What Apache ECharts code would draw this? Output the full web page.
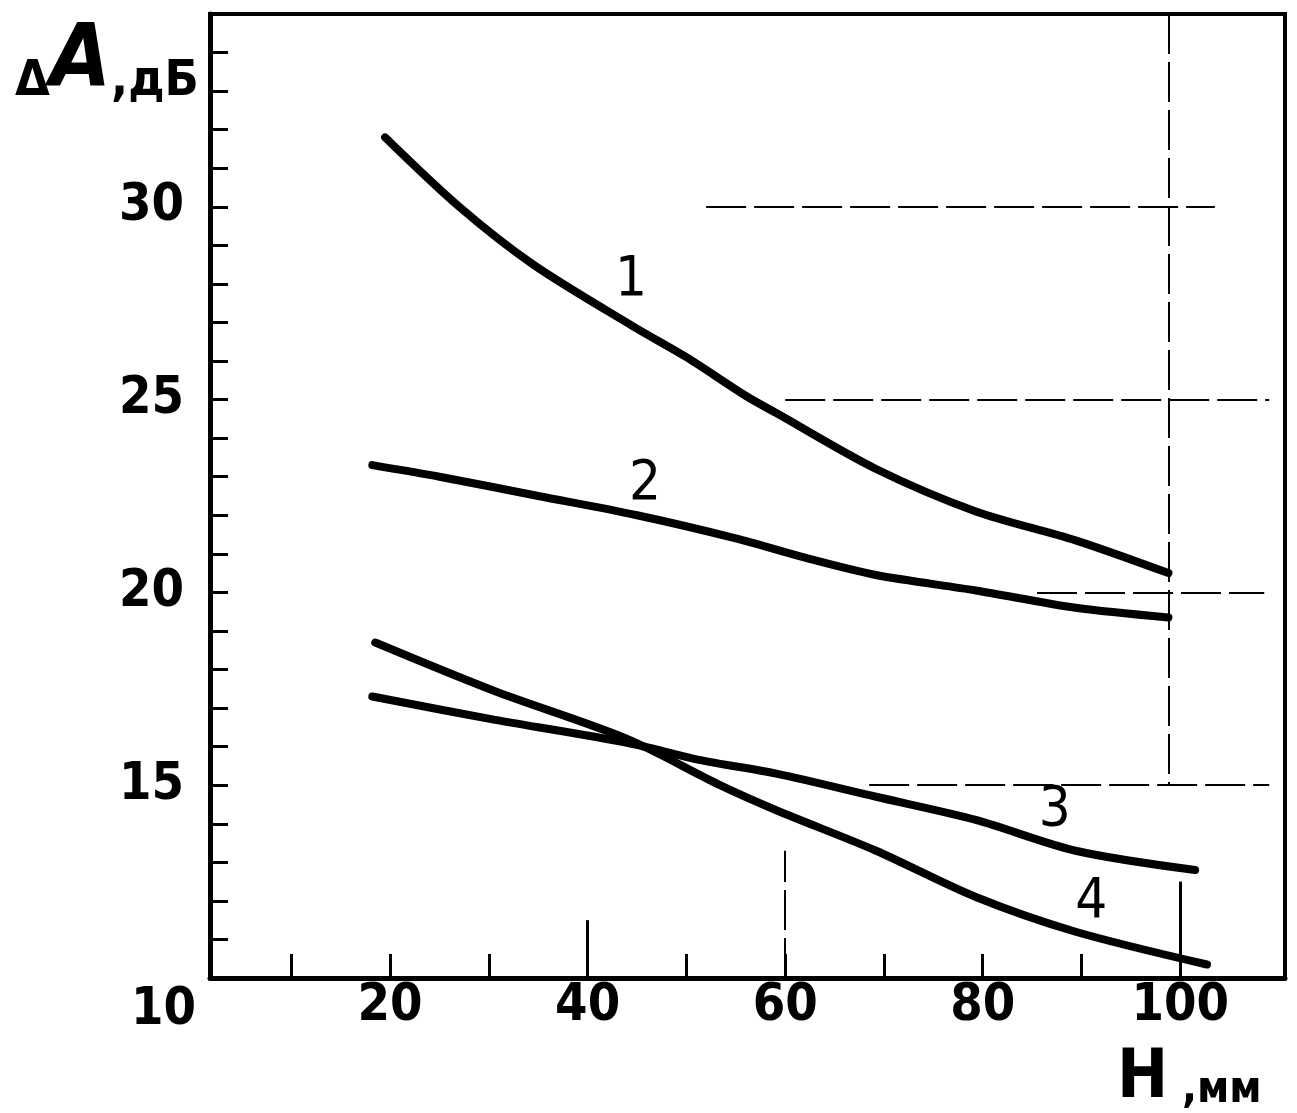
<!DOCTYPE html>
<html>
<head>
<meta charset="utf-8">
<title>ΔA(H)</title>
<script src="https://cdn.jsdelivr.net/npm/echarts@6/dist/echarts.min.js"></script>
<style>
  html, body { margin: 0; padding: 0; background: #fff; }
  #main { width: 1297px; height: 1113px; }
</style>
</head>
<body>
<div id="main"></div>
<script>
// кривые: [H, мм ; ΔA, дБ]
var curve1 = [[19.5, 31.8], [27, 30.0], [34.5, 28.5], [44.6, 26.9], [50, 26.1], [56, 25.1], [59.1, 24.65], [69.2, 23.2], [79.3, 22.1], [89.4, 21.35], [98.8, 20.5]];
var curve2 = [[18.2, 23.3], [25, 23.0], [35, 22.5], [45, 22.0], [55, 21.4], [62, 20.9], [69.2, 20.45], [79.3, 20.05], [89.4, 19.6], [98.8, 19.35]];
var curve3 = [[18.2, 17.3], [30.5, 16.7], [44, 16.1], [51.4, 15.65], [59.1, 15.3], [69.2, 14.7], [79.3, 14.1], [89.4, 13.3], [101.5, 12.8]];
var curve4 = [[18.5, 18.7], [30.5, 17.45], [44, 16.2], [53.4, 15.0], [59.1, 14.35], [69.2, 13.3], [79.3, 12.1], [89.4, 11.2], [102.7, 10.35]];

// номера кривых и где они стоят
var curveNames = ['1', '2', '3', '4'];
var curveLabelPos = [[44.4, 28.1], [45.8, 22.8], [87.3, 14.35], [91.0, 11.95]];

// деления осей
var xTicks = [10, 20, 30, 40, 50, 60, 70, 80, 90, 100];
var xLabels = [20, 40, 60, 80, 100];
var yLabels = [10, 15, 20, 25, 30];

// обрывки сетки, что видны на скане
var gridDashed = [
  [[52, 30], [103.5, 30]],
  [[60, 25], [109, 25]],
  [[85.5, 20], [108.5, 20]],
  [[68.5, 15], [109, 15]],
  [[98.8, 35], [98.8, 15]],
  [[60, 10], [60, 13.3]]
];
var gridSolid = [
  [[100, 10], [100, 12.5]],
  [[40, 10], [40, 11.5]]
];

var font = '"Liberation Sans Narrow", "DejaVu Sans Condensed", sans-serif';

var myChart = echarts.init(document.getElementById('main'));

function curveSeries(data) {
  return {
    type: 'line',
    data: data,
    smooth: 0.3,
    showSymbol: false,
    silent: true,
    lineStyle: { color: '#000', width: 8, cap: 'round' }
  };
}

function fragments(list) {
  return list.map(function (seg) {
    return [{ coord: seg[0] }, { coord: seg[1] }];
  });
}

var series = [curve1, curve2, curve3, curve4].map(curveSeries);

// сетка
series.push({
  type: 'line',
  data: [],
  silent: true,
  markLine: {
    symbol: 'none',
    silent: true,
    label: { show: false },
    lineStyle: { color: '#000', width: 2, type: [40, 8] },
    data: fragments(gridDashed)
  }
});
series.push({
  type: 'line',
  data: [],
  silent: true,
  markLine: {
    symbol: 'none',
    silent: true,
    label: { show: false },
    lineStyle: { color: '#000', width: 3, type: 'solid' },
    data: fragments(gridSolid)
  }
});

// номера кривых
series.push({
  type: 'scatter',
  symbolSize: 0,
  silent: true,
  itemStyle: { color: '#000', opacity: 1 },
  data: curveLabelPos.map(function (p, i) {
    return { name: curveNames[i], value: p };
  }),
  label: {
    show: true,
    position: 'inside',
    formatter: '{b}',
    color: '#000',
    fontSize: 56,
    fontFamily: font
  }
});

myChart.setOption({
  animation: false,
  backgroundColor: '#fff',
  title: [
    {
      text: '{d|Δ}{a|A}{r|,дБ}',
      left: 10,
      top: 14,
      textStyle: {
        rich: {
          d: { fontSize: 50, fontFamily: font, fontWeight: 'bold', color: '#000', verticalAlign: 'bottom' },
          a: { fontSize: 88, fontFamily: font, fontStyle: 'italic', color: '#000', verticalAlign: 'bottom' },
          r: { fontSize: 50, fontFamily: font, fontWeight: 'bold', color: '#000', verticalAlign: 'bottom' }
        }
      }
    },
    {
      text: '{h|H}{r| ,мм}',
      left: 1112,
      top: 1040,
      textStyle: {
        rich: {
          h: { fontSize: 68, fontFamily: font, color: '#000', verticalAlign: 'bottom' },
          r: { fontSize: 44, fontFamily: font, fontWeight: 'bold', color: '#000', verticalAlign: 'bottom' }
        }
      }
    }
  ],
  grid: {
    left: 210,
    right: 12,
    top: 14,
    bottom: 135,
    show: true,
    borderColor: '#000',
    borderWidth: 4
  },
  xAxis: {
    type: 'value',
    min: 1.77,
    max: 110.6,
    axisLine: { lineStyle: { color: '#000', width: 5 } },
    axisTick: {
      inside: true,
      length: 24,
      customValues: xTicks,
      lineStyle: { color: '#000', width: 3 }
    },
    axisLabel: {
      customValues: xLabels,
      color: '#000',
      fontSize: 52,
      fontWeight: 'bold',
      fontFamily: font,
      margin: 2
    },
    splitLine: { show: false }
  },
  yAxis: {
    type: 'value',
    min: 10,
    max: 35,
    interval: 1,
    axisLine: { lineStyle: { color: '#000', width: 5 } },
    axisTick: {
      inside: true,
      length: 18,
      lineStyle: { color: '#000', width: 3 }
    },
    axisLabel: {
      customValues: yLabels,
      color: '#000',
      fontSize: 52,
      fontWeight: 'bold',
      fontFamily: font,
      margin: 14,
      formatter: function (v) {
        return v === 10 ? '{c|10}' : '{n|' + v + '}';
      },
      rich: {
        n: { fontSize: 52, fontWeight: 'bold', fontFamily: font, color: '#000', padding: [0, 12, 0, 0] },
        c: { fontSize: 52, fontWeight: 'bold', fontFamily: font, color: '#000', padding: [64, 0, 0, 0] }
      }
    },
    splitLine: { show: false }
  },
  series: series
});
</script>
</body>
</html>
